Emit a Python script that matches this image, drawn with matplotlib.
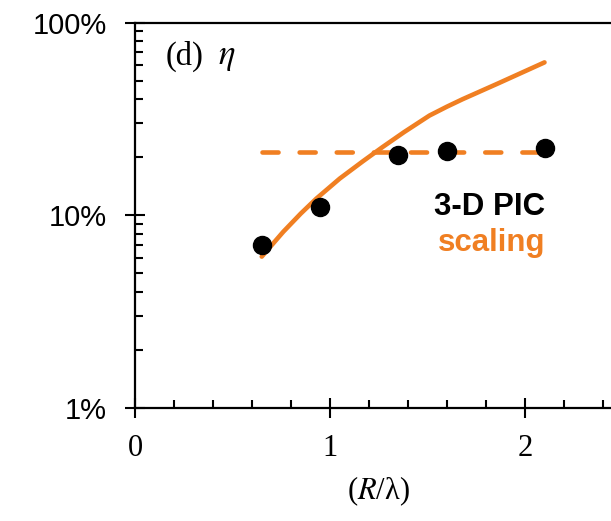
import matplotlib
matplotlib.use("Agg")
import matplotlib.pyplot as plt
from matplotlib.ticker import FixedLocator, MultipleLocator, LogLocator, NullFormatter

plt.rcParams["mathtext.fontset"] = "stix"

# Data (efficiency, %)
pic_x = [0.65, 0.95, 1.35, 1.60, 2.10]
pic_y = [7.0, 11.0, 20.5, 21.5, 22.2]

scal_x = [0.65, 0.76, 0.85, 0.93, 1.05, 1.17, 1.27, 1.38, 1.51, 1.60, 1.68, 1.86, 2.10]
scal_y = [6.1, 8.2, 10.2, 12.2, 15.5, 19.1, 22.6, 27.0, 32.9, 36.6, 40.0, 48.2, 62.1]

flat_x = [0.65, 2.10]
flat_y = [21.3, 21.3]

ytick_vals = [1, 10, 100]
ytick_labels = ["1%", "10%", "100%"]
xtick_vals = [0, 1, 2]
xtick_labels = ["0", "1", "2"]

orange = "#F07F22"

W, H = 611, 521
fig = plt.figure(figsize=(W / 100, H / 100), dpi=100)
left, bottom_px, top_px = 135, 408, 22.5
ax_w_px = 2.5 * 195
ax = fig.add_axes([left / W, (H - bottom_px) / H, ax_w_px / W, (bottom_px - top_px) / H])

ax.plot(scal_x, scal_y, color=orange, lw=3.3, solid_capstyle="round", solid_joinstyle="round", zorder=2)
ax.plot(flat_x, flat_y, color=orange, lw=3.3, dashes=(3.5, 4.6), dash_capstyle="round", zorder=2)
ax.plot(pic_x, pic_y, "o", color="black", ms=13, zorder=3)

ax.set_yscale("log")
ax.set_ylim(1, 100)
ax.set_xlim(0, 2.5)

ax.yaxis.set_major_locator(FixedLocator(ytick_vals))
ax.set_yticklabels(ytick_labels, fontfamily="Liberation Sans", fontsize=21)
ax.yaxis.set_minor_locator(LogLocator(base=10, subs=range(2, 10)))
ax.yaxis.set_minor_formatter(NullFormatter())

ax.xaxis.set_major_locator(FixedLocator(xtick_vals))
ax.set_xticklabels(xtick_labels, fontfamily="Liberation Serif", fontsize=22)
ax.xaxis.set_minor_locator(MultipleLocator(0.2))

ax.tick_params(axis="both", which="major", direction="inout", length=14, width=1.5, color="black")
ax.tick_params(axis="both", which="minor", direction="in", length=6, width=1.5, color="black")
ax.tick_params(axis="x", which="major", pad=12)
ax.tick_params(axis="y", which="major", pad=13)

for s in ["left", "bottom", "top"]:
    ax.spines[s].set_linewidth(1.6)
ax.spines["right"].set_visible(False)

ax.set_xlabel(r"($R$/λ)", fontfamily="Liberation Serif", fontsize=22, labelpad=8)

ax.text(0.155, 67, "(d)", fontfamily="Liberation Serif", fontsize=23.5, va="center", ha="left")
ax.text(0.425, 67, r"$\eta$", fontsize=25, va="center", ha="left")

ax.text(2.105, 11.1, "3-D PIC", fontfamily="Liberation Sans", fontweight="bold", fontsize=22.5, color="black", ha="right", va="center")
ax.text(2.105, 7.2, "scaling", fontfamily="Liberation Sans", fontweight="bold", fontsize=22.5, color=orange, ha="right", va="center")

fig.savefig("out.png", dpi=100)
